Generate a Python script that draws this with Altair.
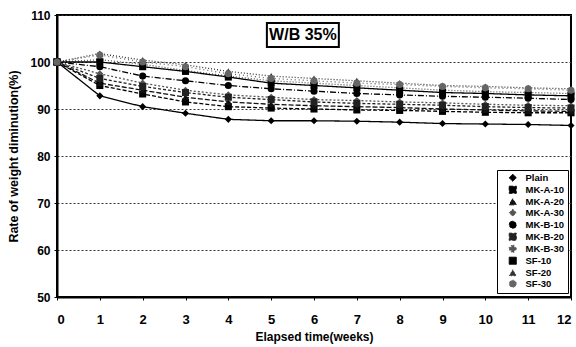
import altair as alt
import pandas as pd

weeks = list(range(13))
series_names = ["Plain", "MK-A-10", "MK-A-20", "MK-A-30", "MK-B-10",
                "MK-B-20", "MK-B-30", "SF-10", "SF-20", "SF-30"]

plain   = [100, 92.8, 90.5, 89.1, 87.8, 87.5, 87.5, 87.4, 87.2, 86.9, 86.8, 86.7, 86.5]
mk_a_10 = [100, 95.0, 93.2, 91.5, 90.5, 90.2, 90.0, 89.8, 89.7, 89.5, 89.3, 89.2, 89.2]
mk_a_20 = [100, 95.5, 94.0, 92.5, 91.5, 91.0, 90.7, 90.5, 90.3, 90.0, 89.8, 89.6, 89.5]
mk_a_30 = [100, 97.5, 95.5, 94.0, 93.0, 92.5, 92.0, 91.8, 91.5, 91.3, 91.0, 90.8, 90.7]
mk_b_10 = [100, 99.0, 97.0, 96.0, 95.0, 94.3, 93.8, 93.3, 93.0, 92.7, 92.5, 92.3, 92.0]
mk_b_20 = [100, 96.5, 94.8, 93.5, 92.5, 92.0, 91.5, 91.2, 91.0, 90.8, 90.5, 90.3, 90.2]
mk_b_30 = [100, 100.5, 99.5, 98.2, 97.0, 96.0, 95.5, 95.0, 94.5, 94.0, 93.7, 93.5, 93.3]
sf_10   = [100, 100.0, 99.0, 98.0, 96.8, 95.5, 95.0, 94.5, 94.0, 93.5, 93.3, 93.0, 92.8]
sf_20   = [100, 101.8, 100.4, 99.4, 98.0, 97.0, 96.5, 96.0, 95.5, 95.0, 94.8, 94.5, 94.3]
sf_30   = [100, 101.5, 100.0, 99.0, 97.5, 96.5, 96.0, 95.5, 95.2, 94.8, 94.5, 94.3, 94.0]

all_values = [plain, mk_a_10, mk_a_20, mk_a_30, mk_b_10,
              mk_b_20, mk_b_30, sf_10, sf_20, sf_30]

y_ticks = [50, 60, 70, 80, 90, 100, 110]
annotation_text = ["W/B 35%"]

rows = []
for name, vals in zip(series_names, all_values):
    for w, v in zip(weeks, vals):
        rows.append({"week": w, "value": v, "series": name})
df = pd.DataFrame(rows)

FONT = "Liberation Sans, Arial"

colors = ["#000000", "#000000", "#111111", "#555555", "#000000",
          "#222222", "#555555", "#000000", "#333333", "#666666"]
dashes = [[1, 0], [4, 2], [5, 2], [2, 2], [6, 2, 1, 2],
          [3, 2], [1, 2], [1, 0], [1, 2], [1, 3]]
shapes = ["diamond", "square", "triangle-up", "diamond", "circle",
          "square", "cross", "square", "triangle-up", "circle"]
sizes = [50, 50, 40, 45, 45, 40, 45, 65, 20, 6]

legend = alt.Legend(
    title=None, orient="none", legendX=440, legendY=155,
    strokeColor="black", fillColor="white", padding=3,
    labelFont=FONT, labelFontSize=9.5, labelFontWeight="bold",
    labelColor="black", rowPadding=0, symbolStrokeWidth=1,
    symbolSize=30, cornerRadius=0, labelLimit=60, symbolOffset=8,
    labelOffset=8,
)

color_enc = alt.Color("series:N", scale=alt.Scale(domain=series_names, range=colors), legend=legend)
dash_enc = alt.StrokeDash("series:N", scale=alt.Scale(domain=series_names, range=dashes), legend=legend)
shape_enc = alt.Shape("series:N", scale=alt.Scale(domain=series_names, range=shapes), legend=legend)
size_enc = alt.Size("series:N", scale=alt.Scale(domain=series_names, range=sizes), legend=None)

x_enc = alt.X("week:Q", scale=alt.Scale(domain=[0, 12], nice=False),
              axis=alt.Axis(title="Elapsed time(weeks)", values=weeks, grid=False,
                            tickCount=13, labelPadding=13, titlePadding=5))
y_enc = alt.Y("value:Q", scale=alt.Scale(domain=[50, 110], nice=False),
              axis=alt.Axis(title="Rate of weight diminution(%)", values=y_ticks,
                            grid=True, gridDash=[2, 2], gridColor="#333333",
                            gridWidth=1, labelPadding=4, titlePadding=9))

base = alt.Chart(df)
lines = base.mark_line(strokeWidth=1.3).encode(
    x=x_enc, y=y_enc, color=color_enc, strokeDash=dash_enc,
    detail="series:N",
)
points = base.mark_point(filled=True, opacity=1).encode(
    x="week:Q", y="value:Q", color=color_enc, shape=shape_enc, size=size_enc,
)

ann_df = pd.DataFrame({"x": [4.9], "x2": [6.58], "y": [108.3], "y2": [103.2],
                       "tx": [5.74], "ty": [105.7], "label": annotation_text})
ann_box = alt.Chart(ann_df).mark_rect(fill="white", stroke="black", strokeWidth=2).encode(
    x="x:Q", x2="x2:Q", y="y:Q", y2="y2:Q")
ann_text = alt.Chart(ann_df).mark_text(font=FONT, fontSize=16, fontWeight="bold",
                                        color="black").encode(
    x="tx:Q", y="ty:Q", text="label:N")

chart = alt.layer(lines, points, ann_box, ann_text).properties(
    width=514, height=282,
    autosize=alt.AutoSizeParams(type="none"),
    padding={"left": 57, "top": 15, "right": 5, "bottom": 50},
).configure_view(
    stroke="black", strokeWidth=2,
).configure_axis(
    labelFont=FONT, labelFontSize=12, labelFontWeight="bold", labelColor="black",
    titleFont=FONT, titleFontSize=12.5, titleFontWeight="bold", titleColor="black",
    domainColor="black", domainWidth=2, tickColor="black", tickSize=3,
).configure_axisX(labelFontSize=13, titleFontSize=12)

chart.save("out.html", embed_options={"renderer": "svg", "actions": False})
